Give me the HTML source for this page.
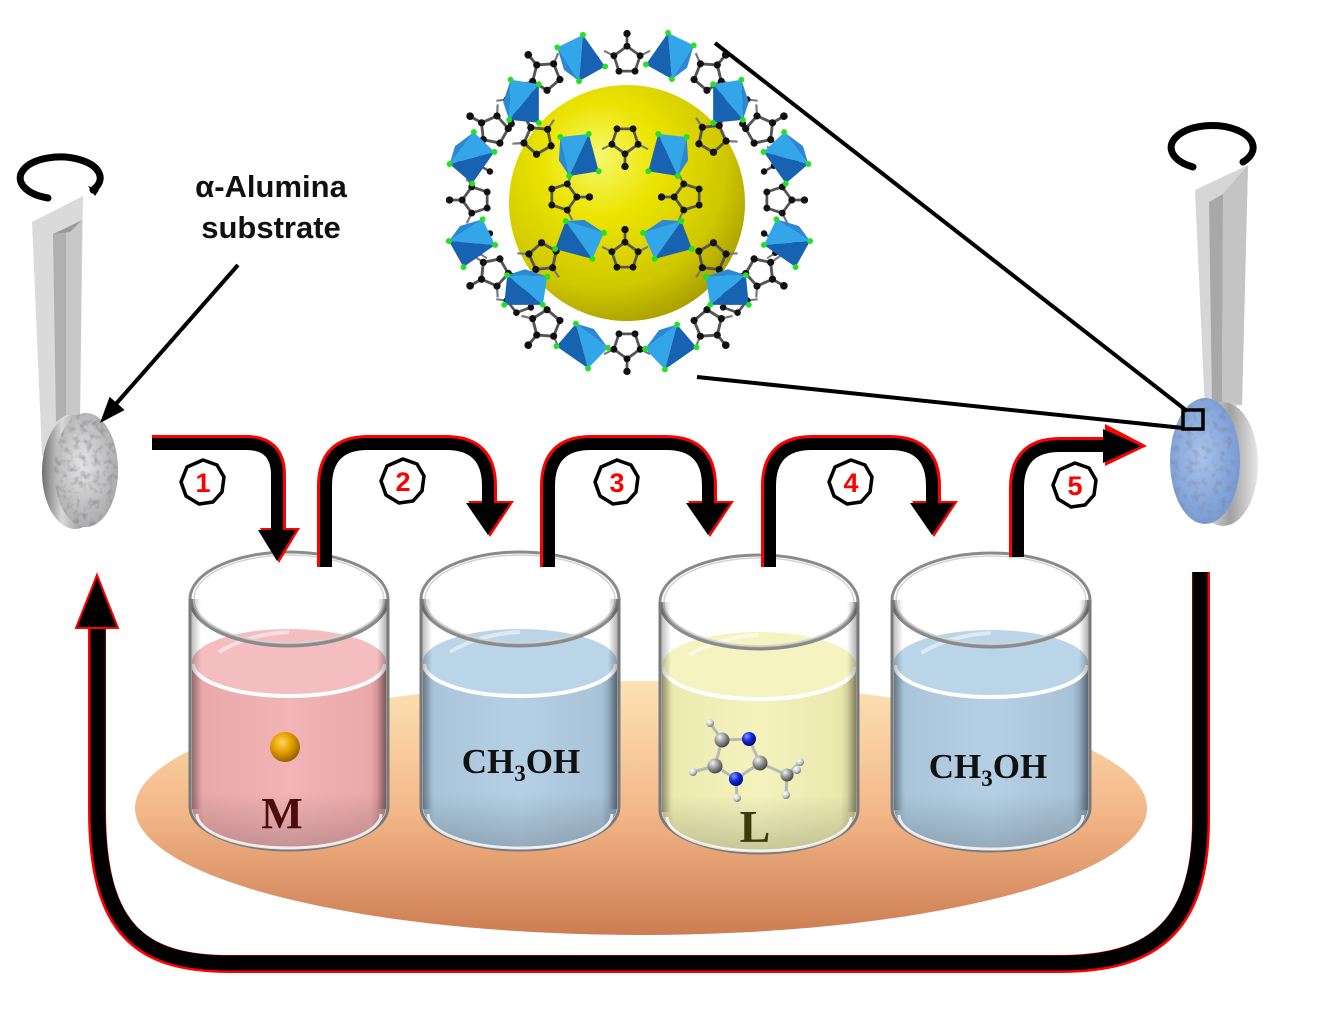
<!DOCTYPE html>
<html><head><meta charset="utf-8"><style>
html,body{margin:0;padding:0;background:#fff;}
svg{display:block;}
</style></head><body>
<svg width="1323" height="1012" viewBox="0 0 1323 1012" xmlns="http://www.w3.org/2000/svg">
<defs>
  <linearGradient id="plat" x1="0" y1="0" x2="0" y2="1">
    <stop offset="0" stop-color="#fde2b4"/>
    <stop offset="0.5" stop-color="#f4b98a"/>
    <stop offset="1" stop-color="#cd7d52"/>
  </linearGradient>
  <linearGradient id="pinkH" x1="0" y1="0" x2="1" y2="0">
    <stop offset="0" stop-color="#c48e90"/><stop offset="0.06" stop-color="#eaa8aa"/>
    <stop offset="0.5" stop-color="#f2b4b6"/><stop offset="0.92" stop-color="#eaa8aa"/>
    <stop offset="1" stop-color="#b07c7e"/>
  </linearGradient>
  <linearGradient id="blueH" x1="0" y1="0" x2="1" y2="0">
    <stop offset="0" stop-color="#8aa2b6"/><stop offset="0.06" stop-color="#aac5da"/>
    <stop offset="0.5" stop-color="#b5d0e5"/><stop offset="0.92" stop-color="#a8c2d7"/>
    <stop offset="1" stop-color="#7a90a2"/>
  </linearGradient>
  <linearGradient id="yelH" x1="0" y1="0" x2="1" y2="0">
    <stop offset="0" stop-color="#c4c28e"/><stop offset="0.06" stop-color="#ebeab0"/>
    <stop offset="0.5" stop-color="#f4f3bd"/><stop offset="0.92" stop-color="#eae8ae"/>
    <stop offset="1" stop-color="#b8b684"/>
  </linearGradient>
  <linearGradient id="shadeV" x1="0" y1="0" x2="0" y2="1">
    <stop offset="0" stop-color="#000" stop-opacity="0"/>
    <stop offset="0.7" stop-color="#000" stop-opacity="0"/>
    <stop offset="1" stop-color="#000" stop-opacity="0.18"/>
  </linearGradient>
  <linearGradient id="wallL" x1="0" y1="0" x2="1" y2="0">
    <stop offset="0" stop-color="#000" stop-opacity="0.3"/>
    <stop offset="1" stop-color="#000" stop-opacity="0"/>
  </linearGradient>
  <linearGradient id="wallR" x1="1" y1="0" x2="0" y2="0">
    <stop offset="0" stop-color="#000" stop-opacity="0.35"/>
    <stop offset="1" stop-color="#000" stop-opacity="0"/>
  </linearGradient>
  <radialGradient id="sphere" cx="0.4" cy="0.35" r="0.7" fx="0.38" fy="0.3">
    <stop offset="0" stop-color="#f8f870"/>
    <stop offset="0.35" stop-color="#ebe400"/>
    <stop offset="0.75" stop-color="#cfc700"/>
    <stop offset="1" stop-color="#a59b00"/>
  </radialGradient>
  <radialGradient id="gold" cx="0.4" cy="0.35" r="0.65">
    <stop offset="0" stop-color="#ffd862"/><stop offset="0.5" stop-color="#e5a000"/><stop offset="1" stop-color="#9a6200"/>
  </radialGradient>
  <radialGradient id="cAt" cx="0.35" cy="0.3" r="0.7">
    <stop offset="0" stop-color="#f4f4f4"/><stop offset="0.5" stop-color="#9a9a9a"/><stop offset="1" stop-color="#4a4a4a"/>
  </radialGradient>
  <radialGradient id="nAt" cx="0.35" cy="0.3" r="0.7">
    <stop offset="0" stop-color="#8a9aff"/><stop offset="0.5" stop-color="#1028e0"/><stop offset="1" stop-color="#000a70"/>
  </radialGradient>
  <radialGradient id="hAt" cx="0.35" cy="0.3" r="0.7">
    <stop offset="0" stop-color="#ffffff"/><stop offset="0.6" stop-color="#cfcfcf"/><stop offset="1" stop-color="#7a7a7a"/>
  </radialGradient>
  <linearGradient id="rimG" x1="0" y1="0" x2="1" y2="0">
    <stop offset="0" stop-color="#6e6e6e"/><stop offset="0.3" stop-color="#d8d8d8"/>
    <stop offset="0.6" stop-color="#a0a0a0"/><stop offset="1" stop-color="#e8e8e8"/>
  </linearGradient>
  <radialGradient id="faceG" cx="0.45" cy="0.45" r="0.6">
    <stop offset="0" stop-color="#e6e6e6"/><stop offset="1" stop-color="#a8a8a8"/>
  </radialGradient>
  <radialGradient id="faceB" cx="0.45" cy="0.45" r="0.6">
    <stop offset="0" stop-color="#a8c4ec"/><stop offset="1" stop-color="#7598d2"/>
  </radialGradient>
  <filter id="tex" x="0" y="0" width="1" height="1">
    <feTurbulence type="fractalNoise" baseFrequency="0.15" numOctaves="2" seed="4" result="n"/>
    <feColorMatrix in="n" type="matrix" values="0 0 0 0 0.2  0 0 0 0 0.2  0 0 0 0 0.25  0 0 0 1.6 -0.75" result="m"/>
    <feComposite in="m" in2="SourceGraphic" operator="in"/>
  </filter>
  <g id="tet">
    <polygon points="-24,-6 -2,-22 2,22" fill="#33a6ea"/>
    <polygon points="-2,-22 24,4 2,22" fill="#1862b2"/>
    <polygon points="-24,-6 2,22 -14,14" fill="#2a88d4"/>
    <circle cx="-24" cy="-6" r="2.8" fill="#22e022"/>
    <circle cx="-2" cy="-22" r="2.8" fill="#22e022"/>
    <circle cx="24" cy="4" r="2.8" fill="#22e022"/>
    <circle cx="2" cy="22" r="2.8" fill="#22e022"/>
  </g>
  <g id="ring">
    <polygon points="0,-12 11.4,-3.7 7,9.7 -7,9.7 -11.4,-3.7" fill="none" stroke="#555" stroke-width="2.4"/>
    <line x1="0" y1="-12" x2="0" y2="-23" stroke="#555" stroke-width="2.4"/>
    <line x1="11.4" y1="-3.7" x2="20" y2="-8" stroke="#777" stroke-width="1.8"/>
    <line x1="-11.4" y1="-3.7" x2="-20" y2="-8" stroke="#777" stroke-width="1.8"/>
    <circle cx="0" cy="-12" r="3" fill="#111"/>
    <circle cx="11.4" cy="-3.7" r="3" fill="#111"/>
    <circle cx="7" cy="9.7" r="3" fill="#111"/>
    <circle cx="-7" cy="9.7" r="3" fill="#111"/>
    <circle cx="-11.4" cy="-3.7" r="3" fill="#111"/>
    <circle cx="0" cy="-23" r="3.2" fill="#111"/>
  </g>
</defs>

<rect width="1323" height="1012" fill="#fff"/>

<!-- platter -->
<ellipse cx="641" cy="808" rx="506" ry="127" fill="url(#plat)"/>

<!-- Beaker 1 (pink) -->
<g transform="translate(289,552)">
  <path d="M-99,47 V255 A99,43 0 0 0 99,255 V47 A99,47 0 0 0 -99,47 Z" fill="#fff"/>
  <path d="M-97,110 V255 A97,41 0 0 0 97,255 V110 Z" fill="url(#pinkH)"/>
  <path d="M-97,110 V255 A97,41 0 0 0 97,255 V110 Z" fill="url(#shadeV)"/>
  <ellipse cx="0" cy="110" rx="97" ry="33" fill="#f4bdbf"/>
  <path d="M-70,100 Q-40,82 0,80" stroke="#fff" stroke-width="4" fill="none" opacity="0.5"/>
  <path d="M-96,112 A96,32 0 0 0 96,112" stroke="#fff" stroke-width="4" fill="none"/>
  <path d="M-97,47 A97,45 0 0 0 97,47" stroke="#8a8a8a" stroke-width="2" fill="none" opacity="0.7"/>
  <ellipse cx="0" cy="47" rx="99" ry="47" fill="none" stroke="#8a8a8a" stroke-width="3"/>
  <ellipse cx="0" cy="47" rx="95" ry="44" fill="none" stroke="#d4d4d4" stroke-width="1.5"/>
  <rect x="-99" y="47" width="11" height="210" fill="url(#wallL)"/>
  <rect x="88" y="47" width="11" height="210" fill="url(#wallR)"/>
  <path d="M-99,47 V255 A99,43 0 0 0 99,255 V47" fill="none" stroke="#7a7a7a" stroke-width="3"/>
  <path d="M-92,262 A92,34 0 0 0 92,262" stroke="#fff" stroke-width="3" fill="none" opacity="0.8"/>
</g>
<!-- Beaker 2 (blue) -->
<g transform="translate(520,552)">
  <path d="M-99,47 V255 A99,43 0 0 0 99,255 V47 A99,47 0 0 0 -99,47 Z" fill="#fff"/>
  <path d="M-97,110 V255 A97,41 0 0 0 97,255 V110 Z" fill="url(#blueH)"/>
  <path d="M-97,110 V255 A97,41 0 0 0 97,255 V110 Z" fill="url(#shadeV)"/>
  <ellipse cx="0" cy="110" rx="97" ry="33" fill="#bad4e8"/>
  <path d="M-70,100 Q-40,82 0,80" stroke="#fff" stroke-width="4" fill="none" opacity="0.5"/>
  <path d="M-96,112 A96,32 0 0 0 96,112" stroke="#fff" stroke-width="4" fill="none"/>
  <path d="M-97,47 A97,45 0 0 0 97,47" stroke="#8a8a8a" stroke-width="2" fill="none" opacity="0.7"/>
  <ellipse cx="0" cy="47" rx="99" ry="47" fill="none" stroke="#8a8a8a" stroke-width="3"/>
  <ellipse cx="0" cy="47" rx="95" ry="44" fill="none" stroke="#d4d4d4" stroke-width="1.5"/>
  <rect x="-99" y="47" width="11" height="210" fill="url(#wallL)"/>
  <rect x="88" y="47" width="11" height="210" fill="url(#wallR)"/>
  <path d="M-99,47 V255 A99,43 0 0 0 99,255 V47" fill="none" stroke="#7a7a7a" stroke-width="3"/>
  <path d="M-92,262 A92,34 0 0 0 92,262" stroke="#fff" stroke-width="3" fill="none" opacity="0.8"/>
</g>
<!-- Beaker 3 (yellow) -->
<g transform="translate(759,555)">
  <path d="M-99,47 V255 A99,43 0 0 0 99,255 V47 A99,47 0 0 0 -99,47 Z" fill="#fff"/>
  <path d="M-97,110 V255 A97,41 0 0 0 97,255 V110 Z" fill="url(#yelH)"/>
  <path d="M-97,110 V255 A97,41 0 0 0 97,255 V110 Z" fill="url(#shadeV)"/>
  <ellipse cx="0" cy="110" rx="97" ry="33" fill="#f5f3c0"/>
  <path d="M-70,100 Q-40,82 0,80" stroke="#fff" stroke-width="4" fill="none" opacity="0.5"/>
  <path d="M-96,112 A96,32 0 0 0 96,112" stroke="#fff" stroke-width="4" fill="none"/>
  <path d="M-97,47 A97,45 0 0 0 97,47" stroke="#8a8a8a" stroke-width="2" fill="none" opacity="0.7"/>
  <ellipse cx="0" cy="47" rx="99" ry="47" fill="none" stroke="#8a8a8a" stroke-width="3"/>
  <ellipse cx="0" cy="47" rx="95" ry="44" fill="none" stroke="#d4d4d4" stroke-width="1.5"/>
  <rect x="-99" y="47" width="11" height="210" fill="url(#wallL)"/>
  <rect x="88" y="47" width="11" height="210" fill="url(#wallR)"/>
  <path d="M-99,47 V255 A99,43 0 0 0 99,255 V47" fill="none" stroke="#7a7a7a" stroke-width="3"/>
  <path d="M-92,262 A92,34 0 0 0 92,262" stroke="#fff" stroke-width="3" fill="none" opacity="0.8"/>
</g>
<!-- Beaker 4 (blue) -->
<g transform="translate(991,553)">
  <path d="M-99,47 V255 A99,43 0 0 0 99,255 V47 A99,47 0 0 0 -99,47 Z" fill="#fff"/>
  <path d="M-97,110 V255 A97,41 0 0 0 97,255 V110 Z" fill="url(#blueH)"/>
  <path d="M-97,110 V255 A97,41 0 0 0 97,255 V110 Z" fill="url(#shadeV)"/>
  <ellipse cx="0" cy="110" rx="97" ry="33" fill="#bad4e8"/>
  <path d="M-70,100 Q-40,82 0,80" stroke="#fff" stroke-width="4" fill="none" opacity="0.5"/>
  <path d="M-96,112 A96,32 0 0 0 96,112" stroke="#fff" stroke-width="4" fill="none"/>
  <path d="M-97,47 A97,45 0 0 0 97,47" stroke="#8a8a8a" stroke-width="2" fill="none" opacity="0.7"/>
  <ellipse cx="0" cy="47" rx="99" ry="47" fill="none" stroke="#8a8a8a" stroke-width="3"/>
  <ellipse cx="0" cy="47" rx="95" ry="44" fill="none" stroke="#d4d4d4" stroke-width="1.5"/>
  <rect x="-99" y="47" width="11" height="210" fill="url(#wallL)"/>
  <rect x="88" y="47" width="11" height="210" fill="url(#wallR)"/>
  <path d="M-99,47 V255 A99,43 0 0 0 99,255 V47" fill="none" stroke="#7a7a7a" stroke-width="3"/>
  <path d="M-92,262 A92,34 0 0 0 92,262" stroke="#fff" stroke-width="3" fill="none" opacity="0.8"/>
</g>

<!-- beaker contents -->
<circle cx="285" cy="747" r="15" fill="url(#gold)"/>
<text x="282" y="828" text-anchor="middle" font-family="Liberation Serif, serif" font-weight="bold" font-size="44" fill="#4a0c0c">M</text>
<text x="521" y="773" text-anchor="middle" font-family="Liberation Serif, serif" font-weight="bold" font-size="35" fill="#111">CH<tspan font-size="23" dy="8">3</tspan><tspan dy="-8">OH</tspan></text>
<text x="988" y="778" text-anchor="middle" font-family="Liberation Serif, serif" font-weight="bold" font-size="35" fill="#111">CH<tspan font-size="23" dy="8">3</tspan><tspan dy="-8">OH</tspan></text>
<text x="755" y="842" text-anchor="middle" font-family="Liberation Serif, serif" font-weight="bold" font-size="46" fill="#3b3b0a">L</text>

<!-- molecule -->
<g stroke="#b8b8b8" stroke-width="3">
  <line x1="710" y1="723" x2="722" y2="740"/>
  <line x1="722" y1="740" x2="749" y2="739"/>
  <line x1="749" y1="739" x2="760" y2="763"/>
  <line x1="760" y1="763" x2="736" y2="779"/>
  <line x1="736" y1="779" x2="715" y2="766"/>
  <line x1="715" y1="766" x2="722" y2="740"/>
  <line x1="715" y1="766" x2="693" y2="772"/>
  <line x1="736" y1="779" x2="737" y2="798"/>
  <line x1="760" y1="763" x2="787" y2="775"/>
  <line x1="787" y1="775" x2="800" y2="762"/>
  <line x1="787" y1="775" x2="797" y2="771"/>
  <line x1="787" y1="775" x2="786" y2="795"/>
</g>
<circle cx="710" cy="723" r="4" fill="url(#hAt)"/>
<circle cx="693" cy="772" r="4" fill="url(#hAt)"/>
<circle cx="737" cy="798" r="4" fill="url(#hAt)"/>
<circle cx="786" cy="795" r="4" fill="url(#hAt)"/>
<circle cx="800" cy="762" r="4" fill="url(#hAt)"/>
<circle cx="722" cy="740" r="7.5" fill="url(#cAt)"/>
<circle cx="715" cy="766" r="7.5" fill="url(#cAt)"/>
<circle cx="760" cy="763" r="7.5" fill="url(#cAt)"/>
<circle cx="787" cy="775" r="6.5" fill="url(#cAt)"/>
<circle cx="797" cy="770" r="4" fill="url(#hAt)"/>
<circle cx="749" cy="739" r="7" fill="url(#nAt)"/>
<circle cx="736" cy="779" r="7" fill="url(#nAt)"/>

<!-- return arrow -->
<path d="M1201,572 V820 C1201,930 1150,964 1060,964 H230 C140,964 97,930 97,810 V626" fill="none" stroke="#ff0000" stroke-width="18"/>
<path d="M1200,572 V820 C1200,929 1149,963 1060,963 H230 C141,963 98,929 98,810 V626" fill="none" stroke="#000" stroke-width="15"/>
<polygon points="76,628 118,628 97,575" fill="#000" stroke="#ff0000" stroke-width="2" stroke-linejoin="miter"/>

<!-- top arrows: red outline then black -->
<g fill="none" stroke="#ff0000" stroke-width="12">
  <path d="M152,441 H246 Q280,441 280,475 V532"/>
  <path d="M323,567 V486 Q323,441 368,441 H446 Q491,441 491,486 V505"/>
  <path d="M546,567 V486 Q546,441 591,441 H666 Q711,441 711,486 V505"/>
  <path d="M767,567 V486 Q767,441 812,441 H890 Q935,441 935,486 V505"/>
  <path d="M1015,557 V488 Q1015,443 1060,443 H1105"/>
</g>
<g fill="#ff0000">
  <polygon points="260,528 300,528 279,563"/>
  <polygon points="468,501 514,501 490,537"/>
  <polygon points="688,501 734,501 710,537"/>
  <polygon points="912,501 958,501 934,537"/>
  <polygon points="1105,424 1105,466 1147,446"/>
</g>
<g fill="none" stroke="#000" stroke-width="12">
  <path d="M152,444 H246 Q277,444 277,475 V534"/>
  <path d="M326,567 V486 Q326,444 368,444 H446 Q488,444 488,486 V505"/>
  <path d="M549,567 V486 Q549,444 591,444 H666 Q708,444 708,486 V505"/>
  <path d="M770,567 V486 Q770,444 812,444 H890 Q932,444 932,486 V505"/>
  <path d="M1018,557 V488 Q1018,446 1060,446 H1105"/>
</g>
<g fill="#000">
  <polygon points="258,530 296,530 277,561"/>
  <polygon points="466,503 510,503 488,535"/>
  <polygon points="686,503 730,503 708,535"/>
  <polygon points="910,503 954,503 932,535"/>
  <polygon points="1103,429 1103,463 1141,446"/>
</g>

<!-- number badges -->
<g fill="#fff" stroke="#000" stroke-width="3.5" stroke-linejoin="round">
  <polygon transform="translate(203,482)" points="0,-22 14,-17 21,-5 19,10 10,20 -4,22 -17,14 -22,0 -16,-15"/>
  <polygon transform="translate(403,481)" points="0,-22 14,-17 21,-5 19,10 10,20 -4,22 -17,14 -22,0 -16,-15"/>
  <polygon transform="translate(617,482)" points="0,-22 14,-17 21,-5 19,10 10,20 -4,22 -17,14 -22,0 -16,-15"/>
  <polygon transform="translate(851,482)" points="0,-22 14,-17 21,-5 19,10 10,20 -4,22 -17,14 -22,0 -16,-15"/>
  <polygon transform="translate(1075,485)" points="0,-22 14,-17 21,-5 19,10 10,20 -4,22 -17,14 -22,0 -16,-15"/>
</g>
<g font-family="Liberation Sans, sans-serif" font-weight="bold" font-size="27" fill="#ff0000" text-anchor="middle">
  <text x="203" y="492">1</text>
  <text x="403" y="491">2</text>
  <text x="617" y="492">3</text>
  <text x="851" y="492">4</text>
  <text x="1075" y="495">5</text>
</g>

<!-- left tweezer -->
<polygon points="32,222 83,196 80,420 50,460 42,455" fill="#dadada"/>
<polygon points="53,234 66,228 66,415 56,422" fill="#b0b0b0"/>
<polygon points="66,228 82,220 80,418 66,415" fill="#c8c8c8"/>
<polygon points="53,234 66,228 82,220 70,232" fill="#9a9a9a"/>
<path d="M48,198 A40,21 0 1 1 93,190" fill="none" stroke="#000" stroke-width="7" stroke-linecap="round"/>
<path d="M88,186 L99,190 L95,196 Z" fill="#000"/>
<!-- left disk -->
<ellipse cx="75" cy="472" rx="33" ry="57" fill="url(#rimG)"/>
<ellipse cx="86" cy="470" rx="32" ry="57" fill="url(#faceG)"/>
<ellipse cx="86" cy="470" rx="32" ry="57" fill="#000" filter="url(#tex)"/>

<!-- right tweezer -->
<polygon points="1195,190 1248,165 1242,405 1205,410" fill="#d6d6d6"/>
<polygon points="1209,202 1223,194 1222,402 1212,404" fill="#a8a8a8"/>
<polygon points="1223,194 1248,165 1242,405 1222,402" fill="#c4c4c4"/>
<path d="M1193,167 A41,22 0 1 1 1243,162" fill="none" stroke="#000" stroke-width="7" stroke-linecap="round"/>
<!-- right disk -->
<ellipse cx="1223" cy="464" rx="35" ry="62" fill="url(#rimG)"/>
<ellipse cx="1205" cy="461" rx="35" ry="63" fill="url(#faceB)"/>
<ellipse cx="1205" cy="461" rx="35" ry="63" fill="#000" filter="url(#tex)" opacity="0.7"/>

<!-- label -->
<g font-family="Liberation Sans, sans-serif" font-weight="bold" font-size="31" fill="#111" text-anchor="middle">
  <text x="271" y="197">α-Alumina</text>
  <text x="271" y="238">substrate</text>
</g>
<line x1="238" y1="265" x2="115" y2="405" stroke="#000" stroke-width="4"/>
<polygon points="100,423 124.6,410 109.6,396.8" fill="#000"/>

<!-- ZIF structure -->
<g>
  <use href="#ring" transform="translate(627,60) scale(1.15)"/>
  <use href="#ring" transform="translate(627,345) rotate(180) scale(1.15)"/>
  <use href="#ring" transform="translate(476,200) rotate(-90) scale(1.15)"/>
  <use href="#ring" transform="translate(778,200) rotate(90) scale(1.15)"/>
  <use href="#ring" transform="translate(546,76) rotate(-40) scale(1.2)"/>
  <use href="#ring" transform="translate(708,76) rotate(40) scale(1.2)"/>
  <use href="#ring" transform="translate(494,130) rotate(-60) scale(1.2)"/>
  <use href="#ring" transform="translate(760,130) rotate(60) scale(1.2)"/>
  <use href="#ring" transform="translate(494,272) rotate(-120) scale(1.2)"/>
  <use href="#ring" transform="translate(760,272) rotate(120) scale(1.2)"/>
  <use href="#ring" transform="translate(546,324) rotate(-140) scale(1.2)"/>
  <use href="#ring" transform="translate(708,324) rotate(140) scale(1.2)"/>
  <use href="#ring" transform="translate(520,100) rotate(200) scale(1.1)"/>
  <use href="#ring" transform="translate(734,100) rotate(160) scale(1.1)"/>
  <use href="#ring" transform="translate(520,300) rotate(-20) scale(1.1)"/>
  <use href="#ring" transform="translate(734,300) rotate(20) scale(1.1)"/>
  <use href="#ring" transform="translate(470,160) rotate(120) scale(1.0)"/>
  <use href="#ring" transform="translate(784,160) rotate(-120) scale(1.0)"/>
  <use href="#ring" transform="translate(470,245) rotate(60) scale(1.0)"/>
  <use href="#ring" transform="translate(784,245) rotate(-60) scale(1.0)"/>
</g>
<circle cx="627" cy="203" r="118" fill="url(#sphere)"/>
<g>
  <use href="#ring" transform="translate(625,140) rotate(180) scale(1.15)"/>
  <use href="#ring" transform="translate(625,256) scale(1.15)"/>
  <use href="#ring" transform="translate(563,197) rotate(90) scale(1.15)"/>
  <use href="#ring" transform="translate(688,197) rotate(-90) scale(1.15)"/>
  <use href="#ring" transform="translate(538,140) rotate(-30) scale(1.2)"/>
  <use href="#ring" transform="translate(712,138) rotate(30) scale(1.2)"/>
  <use href="#ring" transform="translate(543,257) rotate(-150) scale(1.2)"/>
  <use href="#ring" transform="translate(712,257) rotate(150) scale(1.2)"/>
</g>
<g>
  <use href="#tet" transform="translate(581,58) rotate(10) scale(1.05)"/>
  <use href="#tet" transform="translate(670,56) rotate(-10) scale(-1.05,1.05)"/>
  <use href="#tet" transform="translate(524,102) rotate(45) scale(1.05)"/>
  <use href="#tet" transform="translate(728,102) rotate(-45) scale(-1.05,1.05)"/>
  <use href="#tet" transform="translate(472,158) rotate(80) scale(1.05)"/>
  <use href="#tet" transform="translate(786,158) rotate(-80) scale(-1.05,1.05)"/>
  <use href="#tet" transform="translate(472,243) rotate(100) scale(1.05)"/>
  <use href="#tet" transform="translate(787,243) rotate(-100) scale(-1.05,1.05)"/>
  <use href="#tet" transform="translate(525,290) rotate(135) scale(1.05)"/>
  <use href="#tet" transform="translate(728,290) rotate(-135) scale(-1.05,1.05)"/>
  <use href="#tet" transform="translate(582,346) rotate(170) scale(1.05)"/>
  <use href="#tet" transform="translate(671,347) rotate(-170) scale(-1.05,1.05)"/>
  <use href="#tet" transform="translate(579,155) rotate(30) scale(1.05)"/>
  <use href="#tet" transform="translate(668,155) rotate(-30) scale(-1.05,1.05)"/>
  <use href="#tet" transform="translate(579,240) rotate(150) scale(1.05)"/>
  <use href="#tet" transform="translate(668,240) rotate(-150) scale(-1.05,1.05)"/>
</g>

<!-- zoom lines -->
<line x1="715" y1="43" x2="1187" y2="411" stroke="#000" stroke-width="4"/>
<line x1="697" y1="377" x2="1183" y2="428" stroke="#000" stroke-width="4"/>
<rect x="1183" y="410" width="20" height="19" fill="none" stroke="#000" stroke-width="3.5"/>
</svg>
</body></html>
